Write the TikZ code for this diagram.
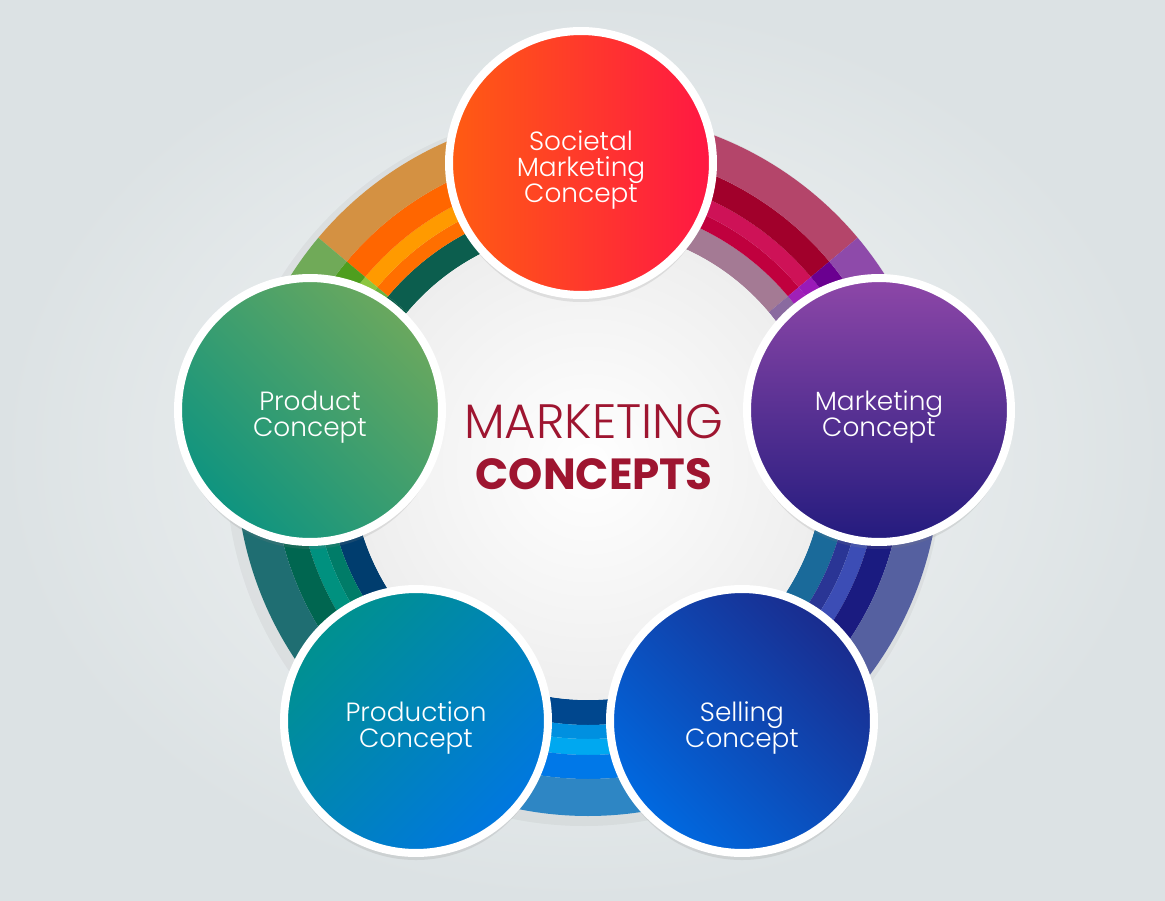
\documentclass[tikz,border=0pt]{standalone}
\usepackage{fontspec}
\setmainfont{Poppins}
\newfontfamily\thinfont{Poppins Light}
\usetikzlibrary{positioning, shadows}

\definecolor{titlered}{HTML}{9E1530}

% one coloured sector of the ring: start, end, then colours from inside out
\newcommand{\ringsector}[7]{%
  \foreach \ri/\ro/\cc in {236/261/#3, 261/275/#4, 275/291/#5, 291/315/#6, 315/352/#7}{
    \fill[color=\cc] (#1:\ri) arc[start angle=#1, end angle=#2, radius=\ri]
      -- (#2:\ro) arc[start angle=#2, end angle=#1, radius=\ro] -- cycle;
  }}

\tikzset{
  conceptlabel/.style={text=white, align=center, font=\thinfont\fontsize{15}{14.8}\selectfont, yshift=-4pt},
  concept/.style={circle, minimum size=5.28cm, draw=white, line width=0.16cm,
    drop shadow={shadow xshift=0pt, shadow yshift=-4pt, opacity=0.18},
    label={[conceptlabel]center:{#1}}},
}

\begin{document}
\begin{tikzpicture}[x=0.02cm, y=0.02cm]
  \useasboundingbox (-588,-436) rectangle (577,464);
  \fill[inner color={rgb,255:red,245;green,247;blue,247}, outer color={rgb,255:red,220;green,226;blue,228}]
    (-588,-436) rectangle (577,464);

  % ring shadow
  \fill[black, opacity=0.04] (-4,-4) circle (358);

  % ring
  \ringsector{40}{90}{{rgb,255:red,164;green,122;blue,148}}{{rgb,255:red,192;green,0;blue,62}}{{rgb,255:red,206;green,18;blue,87}}{{rgb,255:red,161;green,0;blue,43}}{{rgb,255:red,180;green,69;blue,106}}
  \ringsector{90}{140}{{rgb,255:red,12;green,94;blue,78}}{{rgb,255:red,255;green,111;blue,0}}{{rgb,255:red,255;green,154;blue,0}}{{rgb,255:red,255;green,102;blue,0}}{{rgb,255:red,212;green,145;blue,66}}
  \ringsector{140}{170}{{rgb,255:red,11;green,94;blue,74}}{{rgb,255:red,109;green,179;blue,63}}{{rgb,255:red,140;green,198;blue,63}}{{rgb,255:red,78;green,158;blue,30}}{{rgb,255:red,112;green,170;blue,88}}
  \ringsector{170}{240}{{rgb,255:red,0;green,61;blue,110}}{{rgb,255:red,0;green,124;blue,104}}{{rgb,255:red,0;green,145;blue,127}}{{rgb,255:red,0;green,102;blue,80}}{{rgb,255:red,31;green,110;blue,114}}
  \ringsector{240}{300}{{rgb,255:red,0;green,71;blue,142}}{{rgb,255:red,0;green,144;blue,224}}{{rgb,255:red,0;green,168;blue,240}}{{rgb,255:red,0;green,120;blue,232}}{{rgb,255:red,46;green,134;blue,196}}
  \ringsector{300}{370}{{rgb,255:red,26;green,106;blue,154}}{{rgb,255:red,42;green,53;blue,149}}{{rgb,255:red,60;green,77;blue,181}}{{rgb,255:red,26;green,27;blue,128}}{{rgb,255:red,85;green,96;blue,160}}
  \ringsector{10}{40}{{rgb,255:red,138;green,106;blue,160}}{{rgb,255:red,160;green,32;blue,184}}{{rgb,255:red,154;green,26;blue,184}}{{rgb,255:red,106;green,0;blue,144}}{{rgb,255:red,142;green,74;blue,170}}

  % centre
  \node[circle, minimum size=9.44cm, inner color=white, outer color={rgb,255:red,238;green,238;blue,238}] (hub) at (0,0) {};
  \node[font=\thinfont\fontsize{27.5}{30}\selectfont, text=titlered] (title) at (6,42) {MARKETING};
  \node[font=\bfseries\fontsize{24.8}{30}\selectfont, text=titlered, below=4pt of title] (subtitle) {CONCEPTS};

  % concepts
  \node[concept={Societal\\Marketing\\Concept}, left color={rgb,255:red,255;green,92;blue,18}, right color={rgb,255:red,255;green,23;blue,68}] (societal) at (-7,301) {};
  \node[concept={Marketing\\Concept}, top color={rgb,255:red,142;green,71;blue,168}, bottom color={rgb,255:red,35;green,27;blue,126}] (marketing) at (291,54) {};
  \node[concept={Selling\\Concept}, top color={rgb,255:red,26;green,44;blue,142}, bottom color={rgb,255:red,0;green,105;blue,224}, shading angle=-45] (selling) at (154,-257) {};
  \node[concept={Production\\Concept}, top color={rgb,255:red,0;green,145;blue,143}, bottom color={rgb,255:red,0;green,119;blue,224}, shading angle=45] (production) at (-172,-257) {};
  \node[concept={Product\\Concept}, top color={rgb,255:red,106;green,168;blue,94}, bottom color={rgb,255:red,14;green,148;blue,128}, shading angle=-45] (product) at (-278,54) {};
\end{tikzpicture}
\end{document}
